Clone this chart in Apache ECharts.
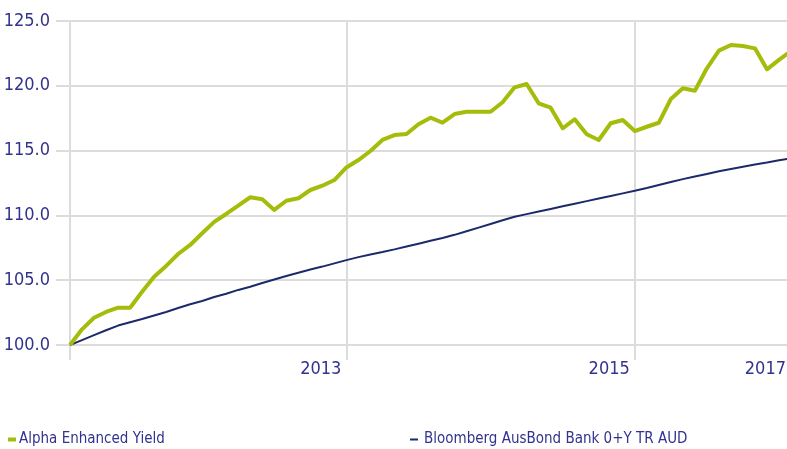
<!DOCTYPE html>
<html>
<head>
<meta charset="utf-8">
<script src="https://cdn.jsdelivr.net/npm/echarts@6/dist/echarts.min.js"></script>
<style>
html,body{margin:0;padding:0;background:#fff;}
#chart{width:787px;height:449px;}
</style>
</head>
<body>
<div id="chart"></div>
<script>
// Monthly categories (61 points)
var categories = [];
(function(){
  var y = 2011, m = 2;
  for (var i = 0; i < 61; i++) {
    categories.push(y + '-' + (m < 10 ? '0' + m : m));
    m++; if (m > 12) { m = 1; y++; }
  }
})();

var xTickIndex = [0, 23, 47, 60];
var xTickLabels = ['', '2013', '2015', '2017'];

var seriesNames = ['Alpha Enhanced Yield', 'Bloomberg AusBond Bank 0+Y TR AUD'];

var alphaValues = [100, 101.21, 102.1, 102.55, 102.88, 102.88, 104.11, 105.27, 106.1, 107.02, 107.72, 108.62,
  109.5, 110.11, 110.75, 111.4, 111.24, 110.42, 111.13, 111.32, 111.96, 112.29, 112.73, 113.7,
  114.27, 114.97, 115.82, 116.2, 116.28, 117.03, 117.54, 117.15, 117.82, 118.0, 118.0, 118.0,
  118.73, 119.88, 120.14, 118.65, 118.31, 116.72, 117.42, 116.26, 115.82, 117.11, 117.36, 116.51,
  116.84, 117.15, 118.98, 119.81, 119.62, 121.35, 122.71, 123.15, 123.07, 122.89, 121.27, 122.0, 122.68];

var bloombergValues = [100, 100.38, 100.76, 101.14, 101.5, 101.75, 102.0, 102.28, 102.55, 102.85, 103.15, 103.4,
  103.7, 103.95, 104.25, 104.5, 104.78, 105.05, 105.32, 105.58, 105.82, 106.05, 106.3, 106.55,
  106.78, 106.98, 107.17, 107.38, 107.6, 107.82, 108.04, 108.26, 108.5, 108.78, 109.06, 109.34,
  109.62, 109.9, 110.1, 110.3, 110.5, 110.7, 110.9, 111.1, 111.3, 111.5, 111.7, 111.9,
  112.12, 112.35, 112.58, 112.8, 113.0, 113.2, 113.4, 113.58, 113.75, 113.92, 114.08, 114.25, 114.4];

var yMin = 100, yMax = 125, yStep = 5;

var FONT = "'DejaVu Sans Condensed', 'Liberation Sans Narrow', sans-serif";
var TXT = '#32328f';
var GRID = '#dcdcdc';
var GREEN = '#a5bd0a';
var NAVY = '#1c2a6b';

function isTick(i) { return xTickIndex.indexOf(i) >= 0; }

var chart = echarts.init(document.getElementById('chart'), null, {renderer: 'canvas'});
chart.setOption({
  animation: false,
  backgroundColor: '#ffffff',
  grid: {left: 70, top: 21, width: 721, height: 324, containLabel: false, outerBoundsMode: 'none'},
  legend: [
    {
      left: 8, top: 432, padding: 0, itemWidth: 8, itemHeight: 4,
      textStyle: {fontFamily: FONT, fontSize: 15, color: TXT, padding: [0, 0, 0, -2]},
      data: [{name: seriesNames[0], icon: 'rect', itemStyle: {color: GREEN}}]
    },
    {
      left: 410, top: 432, padding: 0, itemWidth: 8, itemHeight: 2,
      textStyle: {fontFamily: FONT, fontSize: 15, color: TXT, padding: [0, 0, 0, 1]},
      data: [{name: seriesNames[1], icon: 'rect', itemStyle: {color: NAVY}}]
    }
  ],
  xAxis: {
    type: 'category',
    data: categories,
    boundaryGap: false,
    axisLine: {show: false},
    axisTick: {
      show: true, length: 15,
      interval: function (i) { return isTick(i); },
      lineStyle: {color: GRID, width: 2}
    },
    axisLabel: {
      show: true,
      interval: function (i) { return isTick(i); },
      formatter: function (v, i) { var k = xTickIndex.indexOf(i); return k >= 0 ? xTickLabels[k] : ''; },
      align: 'right',
      padding: [0, 5, 0, 0],
      margin: 15,
      fontFamily: FONT, fontSize: 18, color: TXT
    },
    splitLine: {
      show: true,
      interval: function (i) { return isTick(i); },
      lineStyle: {color: GRID, width: 2}
    }
  },
  yAxis: {
    type: 'value',
    min: yMin, max: yMax, interval: yStep,
    axisLine: {show: false},
    axisTick: {show: true, length: 14, lineStyle: {color: GRID, width: 2}},
    axisLabel: {
      margin: 20,
      formatter: function (v) { return v.toFixed(1); },
      fontFamily: FONT, fontSize: 18, color: TXT
    },
    splitLine: {show: true, lineStyle: {color: GRID, width: 2}}
  },
  series: [
    {
      name: seriesNames[0], type: 'line', data: alphaValues,
      symbol: 'none', smooth: false, z: 3,
      lineStyle: {color: GREEN, width: 4, join: 'round'},
      itemStyle: {color: GREEN}
    },
    {
      name: seriesNames[1], type: 'line', data: bloombergValues,
      symbol: 'none', smooth: false, z: 2,
      lineStyle: {color: NAVY, width: 2},
      itemStyle: {color: NAVY}
    }
  ]
});
</script>
</body>
</html>
